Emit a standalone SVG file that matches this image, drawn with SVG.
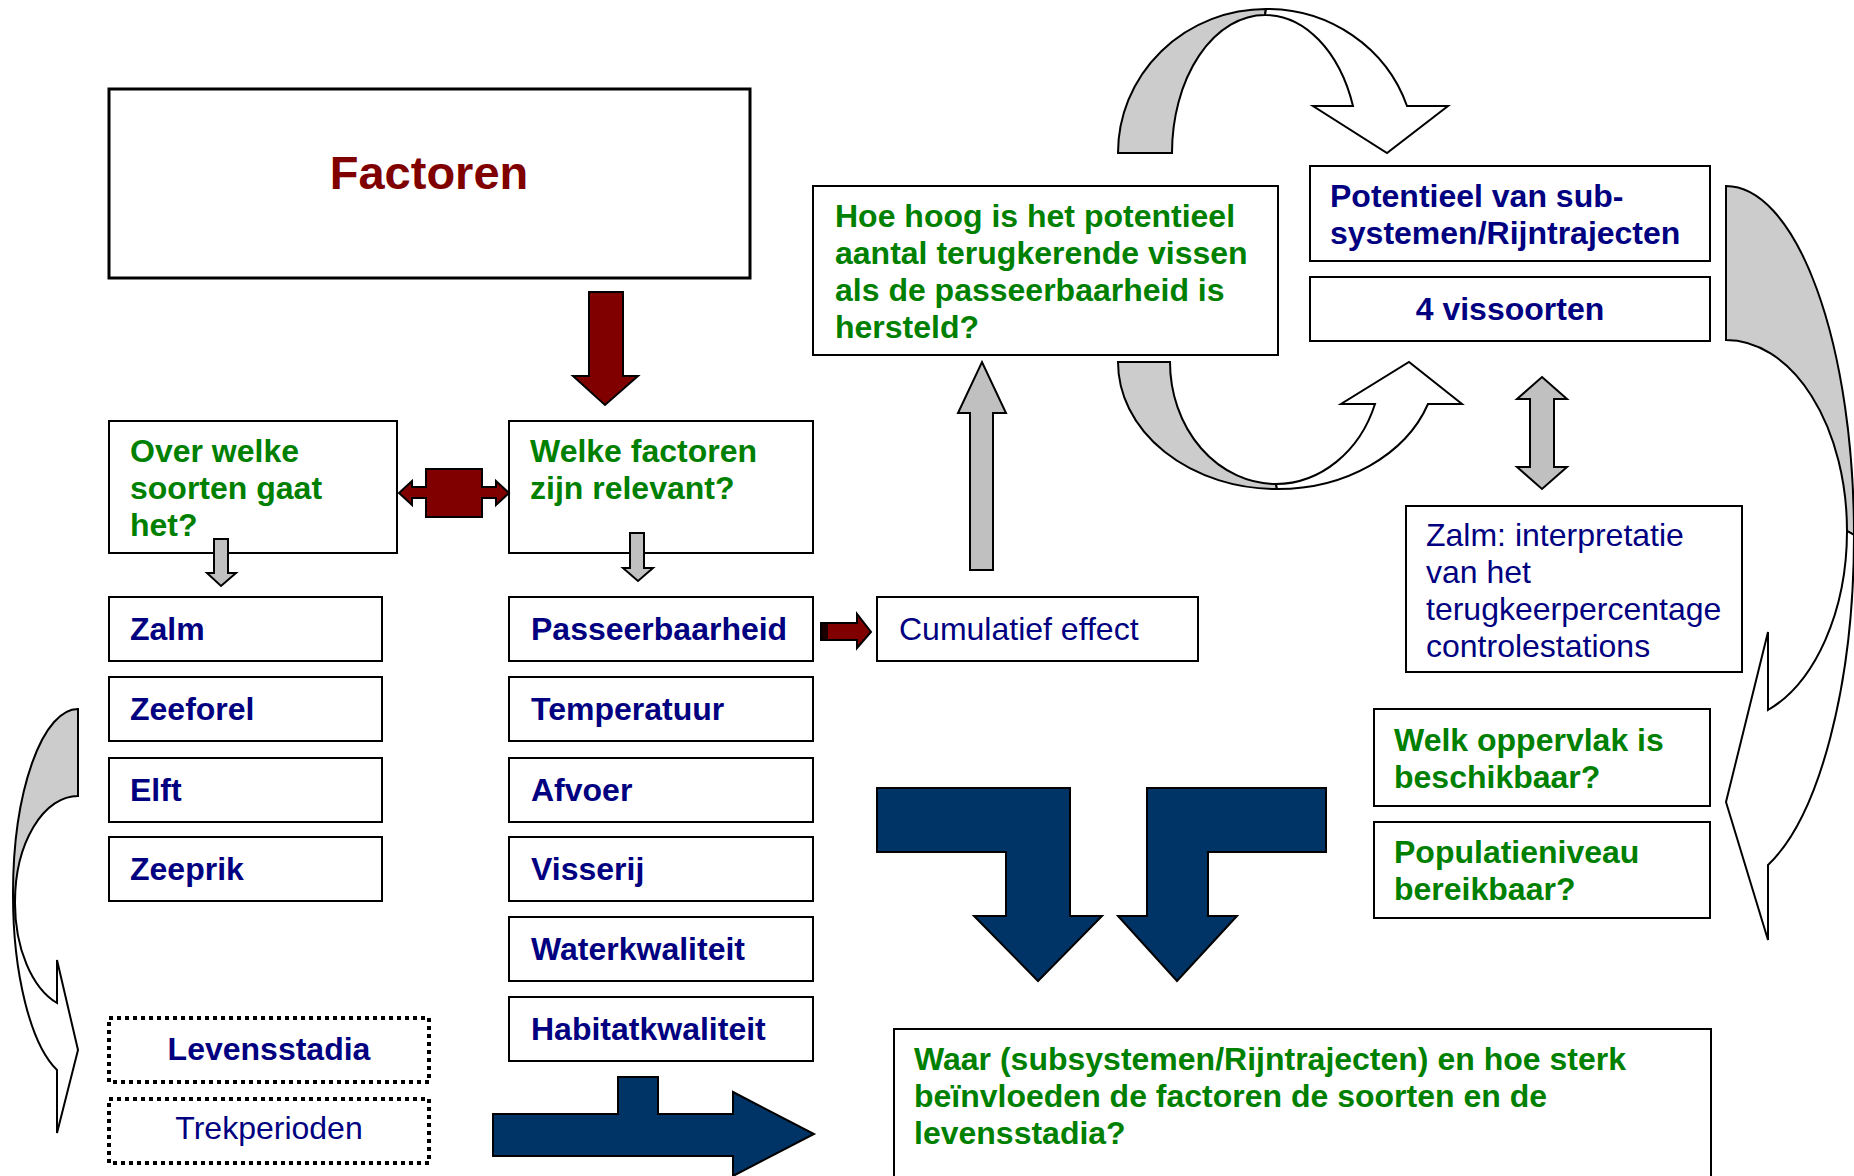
<svg xmlns="http://www.w3.org/2000/svg" width="1854" height="1176" viewBox="0 0 1854 1176">
<style>
text{font-family:"Liberation Sans",Arial,sans-serif;font-size:32px}
.b{font-weight:bold}
.navy{fill:#000080}
.green{fill:#008000}
.box{fill:#fff;stroke:#000;stroke-width:2}
.dot{fill:#fff;stroke:#000;stroke-width:4;stroke-dasharray:4 4}
.gray{fill:#c0c0c0;stroke:#000;stroke-width:2;stroke-linejoin:miter}
.back{fill:#cccccc;stroke:#000;stroke-width:2}
.front{fill:#fff;stroke:#000;stroke-width:2}
.red{fill:#800000;stroke:#000;stroke-width:2}
.blue{fill:#003366;stroke:#000;stroke-width:2}
</style>
<rect width="1854" height="1176" fill="#fff"/>

<g id="factoren">
  <rect x="109" y="89" width="641" height="189" fill="#fff" stroke="#000" stroke-width="3"/>
  <text x="429" y="189" text-anchor="middle" class="b" style="font-size:47px;fill:#800000">Factoren</text>
</g>
<g id="over-welke">
  <rect class="box" x="109" y="421" width="288" height="132"/>
  <text class="b green" x="130" y="462">Over welke</text>
  <text class="b green" x="130" y="499">soorten gaat</text>
  <text class="b green" x="130" y="536">het?</text>
</g>
<g id="welke-factoren">
  <rect class="box" x="509" y="421" width="304" height="132"/>
  <text class="b green" x="530" y="462">Welke factoren</text>
  <text class="b green" x="530" y="499">zijn relevant?</text>
</g>
<g id="zalm"><rect class="box" x="109" y="597" width="273" height="64"/><text class="b navy" x="130" y="640">Zalm</text></g>
<g id="zeeforel"><rect class="box" x="109" y="677" width="273" height="64"/><text class="b navy" x="130" y="720">Zeeforel</text></g>
<g id="elft"><rect class="box" x="109" y="758" width="273" height="64"/><text class="b navy" x="130" y="801">Elft</text></g>
<g id="zeeprik"><rect class="box" x="109" y="837" width="273" height="64"/><text class="b navy" x="130" y="880">Zeeprik</text></g>

<g id="passeerbaarheid"><rect class="box" x="509" y="597" width="304" height="64"/><text class="b navy" x="531" y="640">Passeerbaarheid</text></g>
<g id="temperatuur"><rect class="box" x="509" y="677" width="304" height="64"/><text class="b navy" x="531" y="720">Temperatuur</text></g>
<g id="afvoer"><rect class="box" x="509" y="758" width="304" height="64"/><text class="b navy" x="531" y="801">Afvoer</text></g>
<g id="visserij"><rect class="box" x="509" y="837" width="304" height="64"/><text class="b navy" x="531" y="880">Visserij</text></g>
<g id="waterkwaliteit"><rect class="box" x="509" y="917" width="304" height="64"/><text class="b navy" x="531" y="960">Waterkwaliteit</text></g>
<g id="habitatkwaliteit"><rect class="box" x="509" y="997" width="304" height="64"/><text class="b navy" x="531" y="1040">Habitatkwaliteit</text></g>

<g id="cumulatief"><rect class="box" x="877" y="597" width="321" height="64"/><text class="navy" x="899" y="640">Cumulatief effect</text></g>

<g id="levensstadia"><rect class="dot" x="109" y="1018" width="320" height="64"/><text class="b navy" x="269" y="1060" text-anchor="middle">Levensstadia</text></g>
<g id="trekperioden"><rect class="dot" x="109" y="1099" width="320" height="64"/><text class="navy" x="269" y="1139" text-anchor="middle">Trekperioden</text></g>

<g id="hoe-hoog">
  <rect class="box" x="813" y="186" width="465" height="169"/>
  <text class="b green" x="835" y="227">Hoe hoog is het potentieel</text>
  <text class="b green" x="835" y="264">aantal terugkerende vissen</text>
  <text class="b green" x="835" y="301">als de passeerbaarheid is</text>
  <text class="b green" x="835" y="338">hersteld?</text>
</g>
<g id="potentieel">
  <rect class="box" x="1310" y="166" width="400" height="95"/>
  <text class="b navy" x="1330" y="207">Potentieel van sub-</text>
  <text class="b navy" x="1330" y="244">systemen/Rijntrajecten</text>
</g>
<g id="vissoorten">
  <rect class="box" x="1310" y="277" width="400" height="64"/>
  <text class="b navy" x="1510" y="320" text-anchor="middle">4 vissoorten</text>
</g>
<g id="zalm-interpretatie">
  <rect class="box" x="1406" y="506" width="336" height="166"/>
  <text class="navy" x="1426" y="546">Zalm: interpretatie</text>
  <text class="navy" x="1426" y="583">van het</text>
  <text class="navy" x="1426" y="620">terugkeerpercentage</text>
  <text class="navy" x="1426" y="657">controlestations</text>
</g>
<g id="oppervlak">
  <rect class="box" x="1374" y="709" width="336" height="97"/>
  <text class="b green" x="1394" y="751">Welk oppervlak is</text>
  <text class="b green" x="1394" y="788">beschikbaar?</text>
</g>
<g id="populatieniveau">
  <rect class="box" x="1374" y="822" width="336" height="96"/>
  <text class="b green" x="1394" y="863">Populatieniveau</text>
  <text class="b green" x="1394" y="900">bereikbaar?</text>
</g>
<g id="waar">
  <rect class="box" x="894" y="1029" width="817" height="170"/>
  <text class="b green" x="914" y="1070">Waar (subsystemen/Rijntrajecten) en hoe sterk</text>
  <text class="b green" x="914" y="1107">beïnvloeden de factoren de soorten en de</text>
  <text class="b green" x="914" y="1144">levensstadia?</text>
</g>

<g id="connectors">
  <polygon class="red" points="589,292 623,292 623,376 638,376 605,405 573,376 589,376"/>
  <polygon class="red" points="399,493 412,481 412,487 426,487 426,469 482,469 482,487 496,487 496,481 509,493 496,505 496,498 482,498 482,517 426,517 426,498 412,498 412,505"/>
  <polygon class="gray" points="214,539 228,539 228,573 236,573 221,586 207,573 214,573"/>
  <polygon class="gray" points="630,533 644,533 644,568 653,568 638,581 623,568 630,568"/>
  <g>
    <polygon class="red" points="821,623 857,623 857,614 871,632 857,648 857,640 821,640"/>
    <rect x="822" y="624" width="6" height="15" fill="#1a0000"/>
  </g>
  <polygon class="gray" points="970,570 970,413 958,413 982,362 1006,413 993,413 993,570"/>
  <polygon class="gray" points="1542,377 1567,399 1554,399 1554,467 1567,467 1542,489 1517,467 1530,467 1530,399 1517,399"/>
  <polygon class="blue" points="877,788 1070,788 1070,916 1102,916 1038,981 974,916 1006,916 1006,852 877,852"/>
  <polygon class="blue" points="1147,788 1326,788 1326,852 1208,852 1208,916 1237,916 1177,981 1118,916 1147,916"/>
  <polygon class="blue" points="493,1114 618,1114 618,1077 658,1077 658,1114 733,1114 733,1092 814,1134 733,1176 733,1156 493,1156"/>
  <g>
    <path class="back" d="M1118,153 A148,144 0 0 1 1266,9 L1265,15 A93,138 0 0 0 1172,153 Z"/>
    <path class="front" d="M1266,9 A148,144 0 0 1 1407,106 L1448,106 L1387,153 L1313,106 L1353,106 A93,138 0 0 0 1265,15 Z"/>
  </g>
  <g>
    <path class="back" d="M1118,362 A159,127 0 0 0 1277,489 L1276,484 A106,122 0 0 1 1170,362 Z"/>
    <path class="front" d="M1277,489 A159,127 0 0 0 1428,404 L1462,404 L1409,362 L1341,404 L1375,404 A106,122 0 0 1 1276,484 Z"/>
  </g>
  <g>
    <path class="back" d="M1726,186 A128,349 0 0 1 1854,535 L1847,531 A121,191 0 0 0 1726,340 Z"/>
    <path class="front" d="M1854,535 A128,349 0 0 1 1768,865 L1768,940 L1726,802 L1768,632 L1768,710 A121,191 0 0 0 1847,531 Z"/>
  </g>
  <g>
    <path class="back" d="M78,709 A65,185 0 0 0 13,894 L15,902 A63,106 0 0 1 78,796 Z"/>
    <path class="front" d="M13,894 A65,185 0 0 0 57,1070 L57,1133 L78,1050 L57,960 L57,1003 A63,106 0 0 1 15,902 Z"/>
  </g>
</g>
</svg>
